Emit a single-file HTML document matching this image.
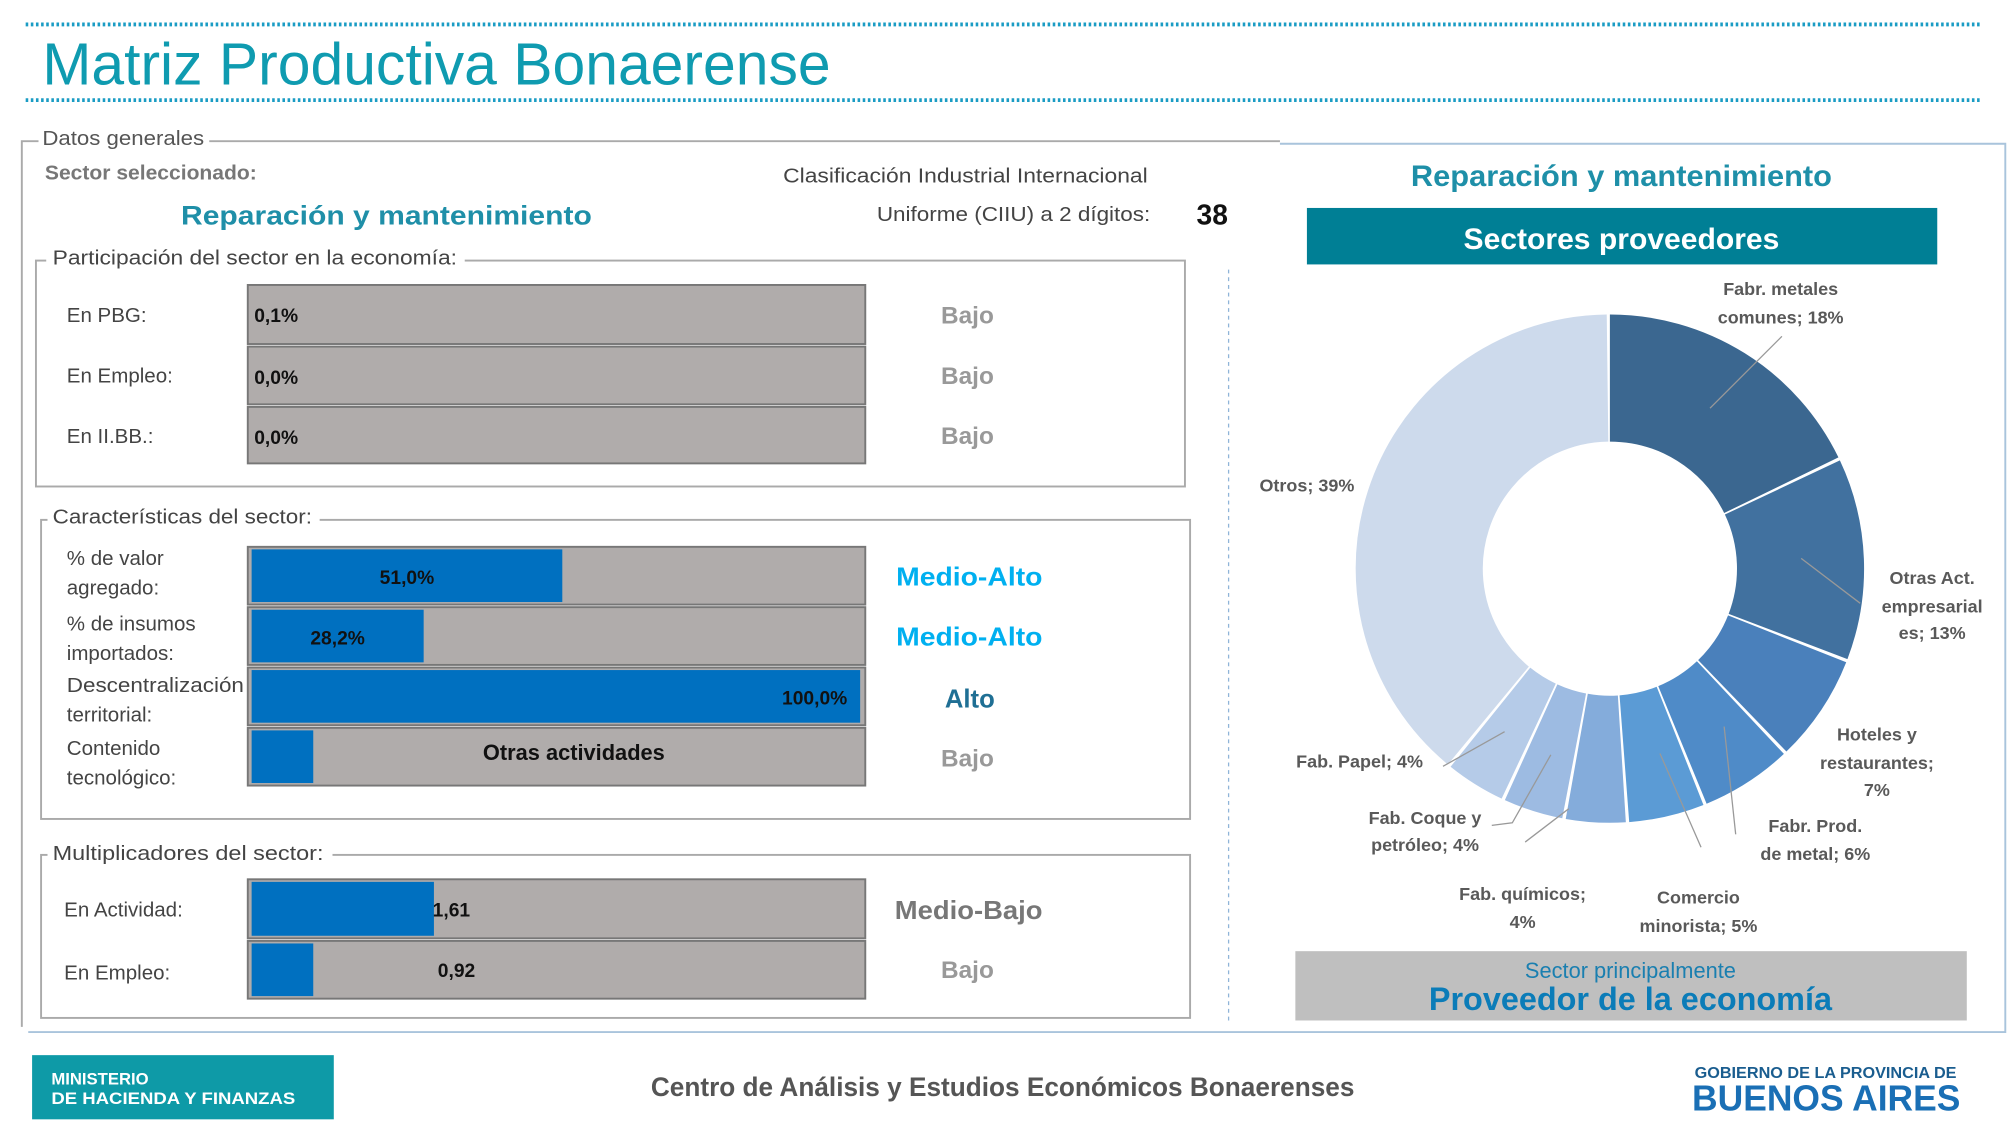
<!DOCTYPE html>
<html><head><meta charset="utf-8"><style>
html,body{margin:0;padding:0;background:#fff;overflow:hidden}
svg{display:block}
text{font-family:"Liberation Sans",sans-serif}
</style></head><body>
<svg width="2013" height="1145" viewBox="0 0 1568 892" preserveAspectRatio="none" xmlns="http://www.w3.org/2000/svg">
<rect width="1568" height="892" fill="#fff"/>
<!-- header -->
<line x1="20" y1="19" x2="1543" y2="19" stroke="#1a9cc4" stroke-width="3" stroke-dasharray="2 2"/>
<line x1="20" y1="78" x2="1543" y2="78" stroke="#1a9cc4" stroke-width="3" stroke-dasharray="2 2"/>
<text x="33" y="66" font-size="46" fill="#0f9bb0" textLength="614" lengthAdjust="spacingAndGlyphs">Matriz Productiva Bonaerense</text>

<!-- frames -->
<polyline points="163,110 997,110" fill="none" stroke="#aaa" stroke-width="1.5"/>
<polyline points="30,110 17,110 17,800" fill="none" stroke="#aaa" stroke-width="1.5"/>
<polyline points="997,112 1562,112 1562,804 22,804" fill="none" stroke="#a9c4dc" stroke-width="1.5"/>
<text x="33" y="113" font-size="16" fill="#555" textLength="126" lengthAdjust="spacingAndGlyphs">Datos generales</text>
<text x="35" y="140" font-size="16" font-weight="bold" fill="#777" textLength="165" lengthAdjust="spacingAndGlyphs">Sector seleccionado:</text>
<text x="141" y="175" font-size="21" font-weight="bold" fill="#1f8fa8" textLength="320" lengthAdjust="spacingAndGlyphs">Reparación y mantenimiento</text>
<text x="610" y="142" font-size="16" fill="#444" textLength="284" lengthAdjust="spacingAndGlyphs">Clasificación Industrial Internacional</text>
<text x="683" y="172" font-size="16" fill="#444" textLength="213" lengthAdjust="spacingAndGlyphs">Uniforme (CIIU) a 2 dígitos:</text>
<text x="932" y="175" font-size="22" font-weight="bold" fill="#111">38</text>

<!-- box1 -->
<rect x="28" y="203" width="895" height="176" fill="none" stroke="#aaa" stroke-width="1.5"/>
<rect x="36" y="194" width="326" height="18" fill="#fff"/>
<text x="41" y="206" font-size="16" fill="#444" textLength="315" lengthAdjust="spacingAndGlyphs">Participación del sector en la economía:</text>
<g stroke="#777" stroke-width="1.5" fill="#b0acab">
<rect x="193" y="222" width="481" height="46"/>
<rect x="193" y="270" width="481" height="45"/>
<rect x="193" y="317" width="481" height="44"/>
</g>
<g font-size="16" fill="#444">
<text x="52" y="251">En PBG:</text>
<text x="52" y="298">En Empleo:</text>
<text x="52" y="345">En II.BB.:</text>
</g>
<g font-size="15" font-weight="bold" fill="#111">
<text x="198" y="251">0,1%</text>
<text x="198" y="299">0,0%</text>
<text x="198" y="346">0,0%</text>
</g>
<g font-size="19" font-weight="bold" fill="#999">
<text x="733" y="252">Bajo</text>
<text x="733" y="299">Bajo</text>
<text x="733" y="346">Bajo</text>
</g>

<!-- box2 -->
<rect x="32" y="405" width="895" height="233" fill="none" stroke="#aaa" stroke-width="1.5"/>
<rect x="37" y="396" width="212" height="18" fill="#fff"/>
<text x="41" y="408" font-size="16" fill="#444" textLength="202" lengthAdjust="spacingAndGlyphs">Características del sector:</text>
<g stroke="#777" stroke-width="1.5" fill="#b0acab">
<rect x="193" y="426" width="481" height="45"/>
<rect x="193" y="473" width="481" height="45"/>
<rect x="193" y="520" width="481" height="45"/>
<rect x="193" y="567" width="481" height="45"/>
</g>
<g fill="#0070c0">
<rect x="196" y="428" width="242" height="41"/>
<rect x="196" y="475" width="134" height="41"/>
<rect x="196" y="522" width="474" height="41"/>
<rect x="196" y="569" width="48" height="41"/>
</g>
<g font-size="15" font-weight="bold" fill="#111">
<text x="317" y="455" text-anchor="middle">51,0%</text>
<text x="263" y="502" text-anchor="middle">28,2%</text>
<text x="660" y="549" text-anchor="end">100,0%</text>
<text x="447" y="592" text-anchor="middle" font-size="17">Otras actividades</text>
</g>
<g font-size="16" fill="#444">
<text x="52" y="440">% de valor</text>
<text x="52" y="463">agregado:</text>
<text x="52" y="491">% de insumos</text>
<text x="52" y="514">importados:</text>
<text x="52" y="539" textLength="138" lengthAdjust="spacingAndGlyphs">Descentralización</text>
<text x="52" y="562">territorial:</text>
<text x="52" y="588">Contenido</text>
<text x="52" y="611">tecnológico:</text>
</g>
<g font-size="20" font-weight="bold">
<text x="698" y="456" fill="#00b0f0" textLength="114" lengthAdjust="spacingAndGlyphs">Medio-Alto</text>
<text x="698" y="503" fill="#00b0f0" textLength="114" lengthAdjust="spacingAndGlyphs">Medio-Alto</text>
<text x="736" y="551" fill="#1f6f94">Alto</text>
<text x="733" y="597" fill="#999" font-size="19">Bajo</text>
</g>

<!-- box3 -->
<rect x="32" y="666" width="895" height="127" fill="none" stroke="#aaa" stroke-width="1.5"/>
<rect x="37" y="657" width="222" height="18" fill="#fff"/>
<text x="41" y="670" font-size="16" fill="#444" textLength="211" lengthAdjust="spacingAndGlyphs">Multiplicadores del sector:</text>
<g stroke="#777" stroke-width="1.5" fill="#b0acab">
<rect x="193" y="685" width="481" height="46"/>
<rect x="193" y="733" width="481" height="45"/>
</g>
<rect x="196" y="687" width="142" height="42" fill="#0070c0"/>
<rect x="196" y="735" width="48" height="41" fill="#0070c0"/>
<g font-size="15" font-weight="bold" fill="#111">
<text x="337" y="714">1,61</text>
<text x="341" y="761">0,92</text>
</g>
<g font-size="16" fill="#444">
<text x="50" y="714">En Actividad:</text>
<text x="50" y="763">En Empleo:</text>
</g>
<text x="697" y="716" font-size="20" font-weight="bold" fill="#777" textLength="115" lengthAdjust="spacingAndGlyphs">Medio-Bajo</text>
<text x="733" y="762" font-size="19" font-weight="bold" fill="#999">Bajo</text>

<line x1="957" y1="210" x2="957" y2="797" stroke="#8fb4d8" stroke-width="1" stroke-dasharray="3 3"/>

<!-- right panel -->
<text x="1263" y="145" text-anchor="middle" font-size="23" font-weight="bold" fill="#1e8fa8" textLength="328" lengthAdjust="spacingAndGlyphs">Reparación y mantenimiento</text>
<rect x="1018" y="162" width="491" height="44" fill="#007f95"/>
<text x="1263" y="194" text-anchor="middle" font-size="23" font-weight="bold" fill="#fff" textLength="246" lengthAdjust="spacingAndGlyphs">Sectores proveedores</text>

<!-- donut -->
<g transform="translate(1254,443) rotate(-90)" fill="none" stroke-width="99">
<circle r="148.5" stroke="#3b6790" stroke-dasharray="165.9 1000" transform="rotate(0)"/>
<circle r="148.5" stroke="#41719f" stroke-dasharray="119.3 1000" transform="rotate(64.8)"/>
<circle r="148.5" stroke="#4a80bb" stroke-dasharray="63.3 1000" transform="rotate(111.6)"/>
<circle r="148.5" stroke="#4f8bc8" stroke-dasharray="54 1000" transform="rotate(136.8)"/>
<circle r="148.5" stroke="#5b9bd5" stroke-dasharray="44.7 1000" transform="rotate(158.4)"/>
<circle r="148.5" stroke="#84acdb" stroke-dasharray="35.3 1000" transform="rotate(176.4)"/>
<circle r="148.5" stroke="#9dbbe2" stroke-dasharray="35.3 1000" transform="rotate(190.8)"/>
<circle r="148.5" stroke="#b5cbe8" stroke-dasharray="35.3 1000" transform="rotate(205.2)"/>
<circle r="148.5" stroke="#cddaec" stroke-dasharray="361.9 1000" transform="rotate(219.6)"/>
</g>
<g stroke="#999" stroke-width="1" fill="none">
<polyline points="1388,262 1332,318"/>
<polyline points="1449,470 1403,435"/>
<polyline points="1352,650 1343,566"/>
<polyline points="1325,660 1293,587"/>
<polyline points="1124,597 1172,570"/>
<polyline points="1162,643 1178,641 1208,588"/>
<polyline points="1188,656 1222,630"/>
</g>
<g font-size="14" font-weight="bold" fill="#595959" text-anchor="middle">
<text x="1387" y="230">Fabr. metales</text>
<text x="1387" y="252">comunes; 18%</text>
<text x="1505" y="455">Otras Act.</text>
<text x="1505" y="477">empresarial</text>
<text x="1505" y="498">es; 13%</text>
<text x="1462" y="577">Hoteles y</text>
<text x="1462" y="599">restaurantes;</text>
<text x="1462" y="620">7%</text>
<text x="1414" y="648">Fabr. Prod.</text>
<text x="1414" y="670">de metal; 6%</text>
<text x="1323" y="704">Comercio</text>
<text x="1323" y="726">minorista; 5%</text>
<text x="1186" y="701">Fab. químicos;</text>
<text x="1186" y="723">4%</text>
<text x="1110" y="642">Fab. Coque y</text>
<text x="1110" y="663">petróleo; 4%</text>
<text x="1059" y="598">Fab. Papel; 4%</text>
<text x="1018" y="383">Otros; 39%</text>
</g>

<rect x="1009" y="741" width="523" height="54" fill="#bfbfbf"/>
<text x="1270" y="762" text-anchor="middle" font-size="17" fill="#1a7fb0">Sector principalmente</text>
<text x="1270" y="787" text-anchor="middle" font-size="25" font-weight="bold" fill="#0b7cb8" textLength="314" lengthAdjust="spacingAndGlyphs">Proveedor de la economía</text>

<!-- footer -->
<rect x="25" y="822" width="235" height="50" fill="#0e9aa7"/>
<text x="40" y="845" font-size="13" font-weight="bold" fill="#fff">MINISTERIO</text>
<text x="40" y="860" font-size="13" font-weight="bold" fill="#fff" textLength="190" lengthAdjust="spacingAndGlyphs">DE HACIENDA Y FINANZAS</text>
<text x="781" y="854" text-anchor="middle" font-size="21" font-weight="bold" fill="#555" textLength="548" lengthAdjust="spacingAndGlyphs">Centro de Análisis y Estudios Económicos Bonaerenses</text>
<text x="1320" y="840" font-size="12" font-weight="bold" fill="#1a5d8f" textLength="204" lengthAdjust="spacingAndGlyphs">GOBIERNO DE LA PROVINCIA DE</text>
<text x="1318" y="865" font-size="28" font-weight="bold" fill="#1a6fb5" textLength="209" lengthAdjust="spacingAndGlyphs">BUENOS AIRES</text>
</svg>
</body></html>
